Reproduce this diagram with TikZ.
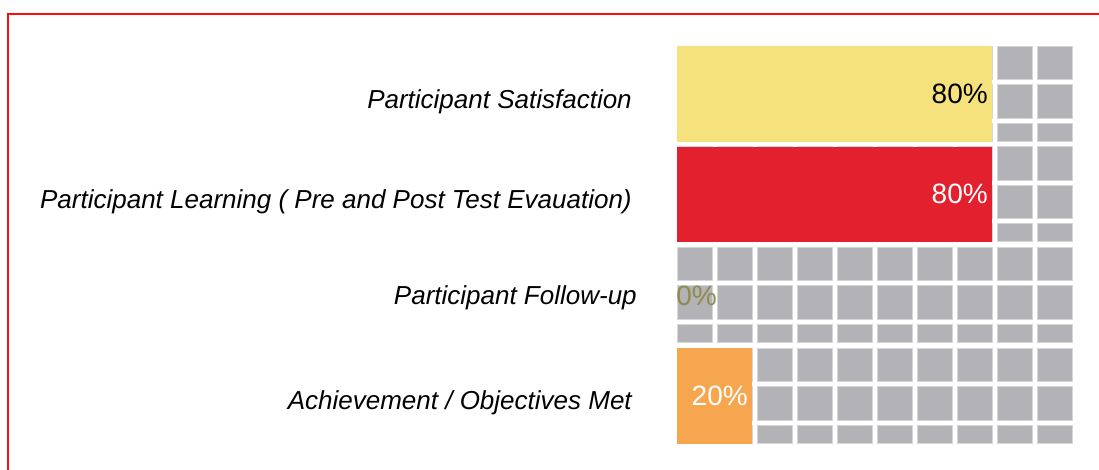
\documentclass[tikz,border=0pt]{standalone}
\usepackage{fontspec}
\setmainfont{Liberation Sans}
\usepackage{tikz}

\definecolor{frameRed}{HTML}{FF0A0A}
\definecolor{cellGray}{HTML}{B2B2B7}
\definecolor{cellEdge}{HTML}{D6D6DA}
\definecolor{barYellow}{HTML}{F6E27C}
\definecolor{barRed}{HTML}{E3202D}
\definecolor{barOrange}{HTML}{F7A650}
\definecolor{zeroOlive}{HTML}{8E8B4C}

\tikzset{
  cell/.style={fill=cellGray, draw=cellEdge, line width=0.4pt},
  rowlabel/.style={anchor=base east, inner sep=0pt, font=\fontsize{19.5}{23}\selectfont\itshape},
  pct/.style={inner sep=0pt, font=\fontsize{21}{25}\selectfont},
}

\begin{document}
\begin{tikzpicture}[x=0.75pt,y=-0.75pt]
			\useasboundingbox (0,0) rectangle (1099,469);
			\clip (0,0) rectangle (1099,469);
			\draw[draw=frameRed, line width=1.8pt] (8,14) rectangle (1130,500);

			% waffle cells
			\foreach \yo in {46,146.5,247,348}
			  \foreach \c in {0,...,9}
			    \foreach \r/\h in {0/33.5,1/33.5,2/18}
			      \filldraw[cell] (677+40*\c,\yo+38.5*\r) rectangle ++(35,\h);

			% bars
			\fill[barYellow] (677,46) rectangle (992,141.5);
			\fill[barRed] (677,146.5) rectangle (992,242);
			\fill[barOrange] (677,348) rectangle (752,443.5);

			\node[rowlabel] (Satisfaction) at (632,108) {Participant Satisfaction};
			\node[rowlabel] (Learning) at (632,208) {Participant Learning ( Pre and Post Test Evauation)};
			\node[rowlabel] (FollowUp) at (637,304) {Participant Follow-up};
			\node[rowlabel] (Achievement) at (632,409) {Achievement / Objectives Met};

			\node[pct,anchor=base east] (SatisfactionPct) at (988,103) {80\%};
			\node[pct,anchor=base east,text=white] (LearningPct) at (988,203) {80\%};
			\node[pct,anchor=base west,text=zeroOlive] (FollowUpPct) at (676,305) {0\%};
			\node[pct,anchor=base east,text=white] (AchievementPct) at (748,405) {20\%};
\end{tikzpicture}
\end{document}
